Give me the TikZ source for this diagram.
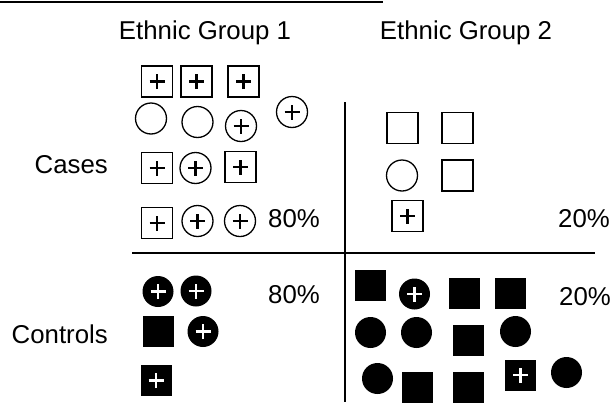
\documentclass[tikz,border=0pt]{standalone}
\usepackage{fontspec}
\setmainfont{Liberation Sans}
\begin{document}
\begin{tikzpicture}[x=1pt,y=-1pt,
  lbl/.style={inner sep=0pt,font=\fontsize{25.8}{30}\selectfont},
  shp/.style={inner sep=0pt,minimum size=31pt,line width=1.3pt},
  sqo/.style={shp,draw,rectangle},
  cio/.style={shp,draw,circle},
  sqf/.style={shp,fill=black,rectangle},
  cif/.style={shp,fill=black,circle},
  plusb/.style={path picture={\draw[line width=2.2pt,black]
     ([xshift=-7.5pt]path picture bounding box.center) -- ([xshift=7.5pt]path picture bounding box.center)
     ([yshift=-7.5pt]path picture bounding box.center) -- ([yshift=7.5pt]path picture bounding box.center);}},
  plusw/.style={path picture={\draw[line width=2.4pt,white]
     ([xshift=-7.5pt]path picture bounding box.center) -- ([xshift=7.5pt]path picture bounding box.center)
     ([yshift=-7.5pt]path picture bounding box.center) -- ([yshift=7.5pt]path picture bounding box.center);}},
  axis/.style={line width=1.5pt}
]
\useasboundingbox (0,0) rectangle (613,402);
% rules
\coordinate (t1) at (0,1.5); \coordinate (t2) at (383,1.5);
\draw[line width=2pt] (t1) -- (t2);
\coordinate (h1) at (132,253); \coordinate (h2) at (595,253);
\coordinate (v1) at (345,102); \coordinate (v2) at (345,402);
\draw[axis] (h1) -- (h2);
\draw[axis] (v1) -- (v2);
% labels
\node[lbl,anchor=base] (g1) at (205,39.5) {Ethnic Group 1};
\node[lbl,anchor=base] (g2) at (466,39.5) {Ethnic Group 2};
\node[lbl,anchor=base east] (cases) at (108,173) {Cases};
\node[lbl,anchor=base east] (controls) at (108,343) {Controls};
\node[lbl,anchor=base west] (p1) at (268,227) {80\%};
\node[lbl,anchor=base west] (p2) at (558,227) {20\%};
\node[lbl,anchor=base west] (p3) at (268,303) {80\%};
\node[lbl,anchor=base west] (p4) at (559,305) {20\%};
% Cases, group 1
\node[sqo,plusb] (a1) at (157,81.5) {};
\node[sqo,plusb] (a2) at (196.5,81.5) {};
\node[sqo,plusb] (a3) at (243.5,81.5) {};
\node[cio] (a4) at (151,118.5) {};
\node[cio] (a5) at (197.5,122) {};
\node[cio,plusb] (a6) at (241,126) {};
\node[cio,plusb] (a7) at (292,112) {};
\node[sqo,plusb] (a8) at (157,168) {};
\node[cio,plusb] (a9) at (195.5,168) {};
\node[sqo,plusb] (a10) at (240.5,167) {};
\node[sqo,plusb] (a11) at (157,223) {};
\node[cio,plusb] (a12) at (197.5,221) {};
\node[cio,plusb] (a13) at (240,221) {};
% Cases, group 2
\node[sqo] (b1) at (402.5,128) {};
\node[sqo] (b2) at (457.5,128) {};
\node[cio] (b3) at (402,175.5) {};
\node[sqo] (b4) at (457.5,175.5) {};
\node[sqo,plusb] (b5) at (407.5,216) {};
% Controls, group 1
\node[cif,plusw] (c1) at (158,291.5) {};
\node[cif,plusw] (c2) at (196,291) {};
\node[sqf] (c3) at (158,331) {};
\node[cif,plusw] (c4) at (203,331.5) {};
\node[sqf,plusw] (c5) at (156,380.5) {};
% Controls, group 2
\node[sqf] (d1) at (370.5,285) {};
\node[cif,plusw] (d2) at (414.5,294) {};
\node[sqf] (d3) at (464.5,293) {};
\node[sqf] (d4) at (510,293.5) {};
\node[cif] (d5) at (370.5,332.5) {};
\node[cif] (d6) at (416.5,332.5) {};
\node[sqf] (d7) at (468.5,340.5) {};
\node[cif] (d8) at (515.5,331.5) {};
\node[cif] (d9) at (377.5,378.5) {};
\node[sqf] (d10) at (417,387) {};
\node[sqf] (d11) at (468.5,387) {};
\node[sqf,plusw] (d12) at (520.5,375) {};
\node[cif] (d13) at (566.5,372.5) {};
\end{tikzpicture}
\end{document}
